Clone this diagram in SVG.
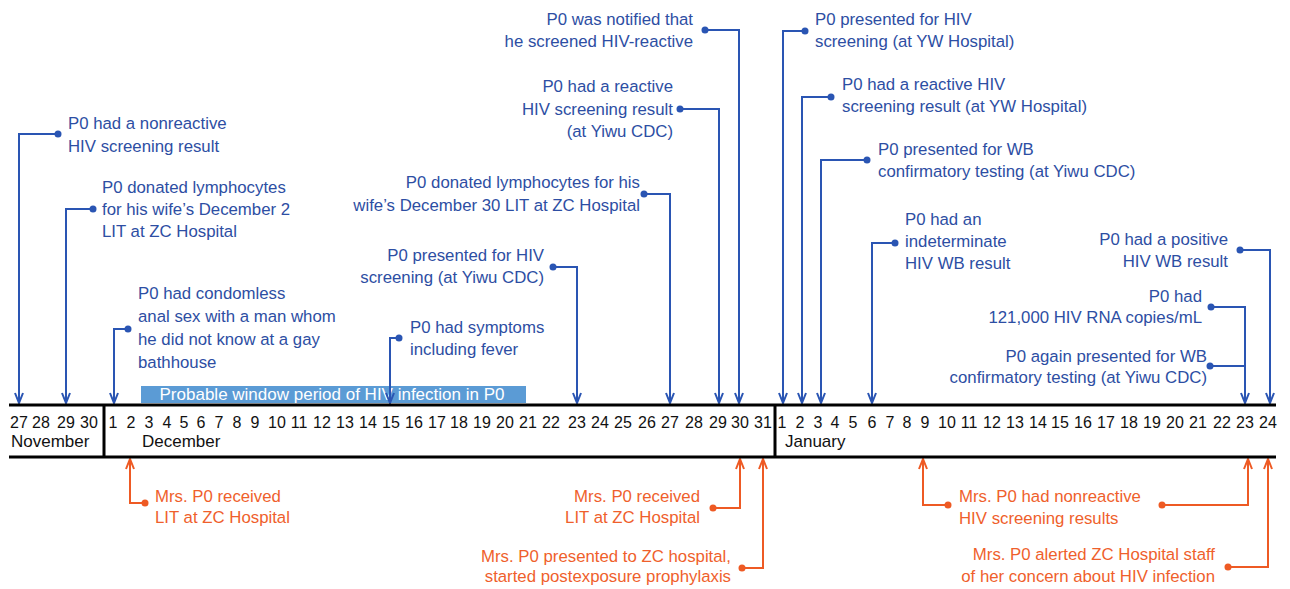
<svg xmlns="http://www.w3.org/2000/svg" width="1290" height="589" viewBox="0 0 1290 589">
<defs>
<style>
.bt{font-family:"Liberation Sans",Arial,sans-serif;font-size:16.8px;fill:#2d4ea3}
.ot{font-family:"Liberation Sans",Arial,sans-serif;font-size:16.8px;fill:#ef5f2c}
.r{text-anchor:end}
.day{font-family:"Liberation Sans",Arial,sans-serif;font-size:16px;fill:#111;text-anchor:middle}
.mon{font-family:"Liberation Sans",Arial,sans-serif;font-size:17px;fill:#111}
.bl{fill:none;stroke:#2a55b3;stroke-width:2}
.ol{fill:none;stroke:#ee5a24;stroke-width:2}
.bd{fill:#2a55b3}
.od{fill:#ee5a24}
.ax{stroke:#000;stroke-width:3;fill:none}
</style>
<marker id="ab" viewBox="0 0 12 10" refX="11" refY="5" markerWidth="12" markerHeight="10" markerUnits="userSpaceOnUse" orient="auto">
<path d="M1,1 L11,5 L1,9" fill="none" stroke="#2a55b3" stroke-width="2"/>
</marker>
<marker id="ao" viewBox="0 0 12 10" refX="11" refY="5" markerWidth="12" markerHeight="10" markerUnits="userSpaceOnUse" orient="auto">
<path d="M1,1 L11,5 L1,9" fill="none" stroke="#ee5a24" stroke-width="2"/>
</marker>
</defs>
<rect width="1290" height="589" fill="#fff"/>

<g id="window-period">
<rect x="141" y="386" width="385" height="17" fill="#5b9bd5"/>
<text x="332" y="400" text-anchor="middle" font-family="Liberation Sans,Arial,sans-serif" font-size="17" fill="#fff">Probable window period of HIV infection in P0</text>
</g>

<g id="connectors">
<path class="bl" marker-end="url(#ab)" d="M58,134 H19 V403"/>
<path class="bl" marker-end="url(#ab)" d="M93,209 H66 V403"/>
<path class="bl" marker-end="url(#ab)" d="M128,329 H114 V403"/>
<path class="bl" marker-end="url(#ab)" d="M399,338 H390 V403"/>
<path class="bl" marker-end="url(#ab)" d="M553,267 H577 V403"/>
<path class="bl" marker-end="url(#ab)" d="M644,194 H670 V403"/>
<path class="bl" marker-end="url(#ab)" d="M680,109 H719 V403"/>
<path class="bl" marker-end="url(#ab)" d="M705,30 H739 V403"/>
<path class="bl" marker-end="url(#ab)" d="M805,31 H783 V403"/>
<path class="bl" marker-end="url(#ab)" d="M831,97 H802 V403"/>
<path class="bl" marker-end="url(#ab)" d="M867,160 H821 V403"/>
<path class="bl" marker-end="url(#ab)" d="M895,243 H872 V403"/>
<path class="bl" marker-end="url(#ab)" d="M1240,250 H1270 V403"/>
<path class="bl" marker-end="url(#ab)" d="M1211,307 H1245 V403"/>
<path class="bl" d="M1210,366 H1245"/>
<path class="ol" marker-end="url(#ao)" d="M145,503 H130 V459"/>
<path class="ol" marker-end="url(#ao)" d="M713,508 H740 V459"/>
<path class="ol" marker-end="url(#ao)" d="M742,568 H763 V459"/>
<path class="ol" marker-end="url(#ao)" d="M948,505 H923 V459"/>
<path class="ol" marker-end="url(#ao)" d="M1162,505 H1248 V459"/>
<path class="ol" marker-end="url(#ao)" d="M1228,567 H1268 V459"/>
<circle class="bd" cx="58" cy="134" r="3.5"/>
<circle class="bd" cx="93" cy="209" r="3.5"/>
<circle class="bd" cx="128" cy="329" r="3.5"/>
<circle class="bd" cx="399" cy="338" r="3.5"/>
<circle class="bd" cx="553" cy="267" r="3.5"/>
<circle class="bd" cx="644" cy="194" r="3.5"/>
<circle class="bd" cx="680" cy="109" r="3.5"/>
<circle class="bd" cx="705" cy="30" r="3.5"/>
<circle class="bd" cx="805" cy="31" r="3.5"/>
<circle class="bd" cx="831" cy="97" r="3.5"/>
<circle class="bd" cx="867" cy="160" r="3.5"/>
<circle class="bd" cx="895" cy="243" r="3.5"/>
<circle class="bd" cx="1240" cy="250" r="3.5"/>
<circle class="bd" cx="1211" cy="307" r="3.5"/>
<circle class="bd" cx="1210" cy="366" r="3.5"/>
<circle class="od" cx="145" cy="503" r="3.5"/>
<circle class="od" cx="713" cy="508" r="3.5"/>
<circle class="od" cx="742" cy="568" r="3.5"/>
<circle class="od" cx="948" cy="505" r="3.5"/>
<circle class="od" cx="1162" cy="505" r="3.5"/>
<circle class="od" cx="1228" cy="567" r="3.5"/>
</g>

<g id="timeline">
<path class="ax" d="M9,405 H1276 M9,457 H1276 M104,405 V457 M775,405 V457"/>
<text class="day" y="428"><tspan x="19">27</tspan><tspan x="41">28</tspan><tspan x="66">29</tspan><tspan x="89">30</tspan><tspan x="113">1</tspan><tspan x="131">2</tspan><tspan x="149">3</tspan><tspan x="167">4</tspan><tspan x="184">5</tspan><tspan x="201">6</tspan><tspan x="219">7</tspan><tspan x="237">8</tspan><tspan x="255">9</tspan><tspan x="277">10</tspan><tspan x="299">11</tspan><tspan x="322">12</tspan><tspan x="345">13</tspan><tspan x="368">14</tspan><tspan x="391">15</tspan><tspan x="414">16</tspan><tspan x="437">17</tspan><tspan x="459">18</tspan><tspan x="482">19</tspan><tspan x="505">20</tspan><tspan x="528">21</tspan><tspan x="551">22</tspan><tspan x="577">23</tspan><tspan x="600">24</tspan><tspan x="623">25</tspan><tspan x="647">26</tspan><tspan x="670">27</tspan><tspan x="694">28</tspan><tspan x="718">29</tspan><tspan x="740">30</tspan><tspan x="763">31</tspan><tspan x="782">1</tspan><tspan x="800">2</tspan><tspan x="818">3</tspan><tspan x="835">4</tspan><tspan x="853">5</tspan><tspan x="872">6</tspan><tspan x="890">7</tspan><tspan x="907">8</tspan><tspan x="925">9</tspan><tspan x="947">10</tspan><tspan x="969">11</tspan><tspan x="992">12</tspan><tspan x="1015">13</tspan><tspan x="1038">14</tspan><tspan x="1060">15</tspan><tspan x="1083">16</tspan><tspan x="1106">17</tspan><tspan x="1129">18</tspan><tspan x="1152">19</tspan><tspan x="1175">20</tspan><tspan x="1198">21</tspan><tspan x="1222">22</tspan><tspan x="1245">23</tspan><tspan x="1268">24</tspan></text>
<text class="mon" x="11" y="447">November</text>
<text class="mon" x="142" y="447">December</text>
<text class="mon" x="785" y="447">January</text>
</g>

<g id="e-nov27"><text class="bt" x="68" y="129">P0 had a nonreactive</text><text class="bt" x="68" y="152">HIV screening result</text></g>
<g id="e-nov29"><text class="bt" x="102" y="193">P0 donated lymphocytes</text><text class="bt" x="102" y="215">for his wife’s December 2</text><text class="bt" x="102" y="237">LIT at ZC Hospital</text></g>
<g id="e-dec1"><text class="bt" x="138" y="299">P0 had condomless</text><text class="bt" x="138" y="322">anal sex with a man whom</text><text class="bt" x="138" y="345">he did not know at a gay</text><text class="bt" x="138" y="368">bathhouse</text></g>
<g id="e-dec15"><text class="bt" x="410" y="333">P0 had symptoms</text><text class="bt" x="410" y="355">including fever</text></g>
<g id="e-dec23"><text class="bt r" x="544" y="261">P0 presented for HIV</text><text class="bt r" x="544" y="283">screening (at Yiwu CDC)</text></g>
<g id="e-dec27"><text class="bt r" x="640" y="188">P0 donated lymphocytes for his</text><text class="bt r" x="640" y="211">wife’s December 30 LIT at ZC Hospital</text></g>
<g id="e-dec29"><text class="bt r" x="673" y="92">P0 had a reactive</text><text class="bt r" x="673" y="115">HIV screening result</text><text class="bt r" x="673" y="137">(at Yiwu CDC)</text></g>
<g id="e-dec30"><text class="bt r" x="693" y="25">P0 was notified that</text><text class="bt r" x="693" y="47">he screened HIV-reactive</text></g>
<g id="e-jan1"><text class="bt" x="815" y="25">P0 presented for HIV</text><text class="bt" x="815" y="47">screening (at YW Hospital)</text></g>
<g id="e-jan2"><text class="bt" x="842" y="90">P0 had a reactive HIV</text><text class="bt" x="842" y="112">screening result (at YW Hospital)</text></g>
<g id="e-jan3"><text class="bt" x="878" y="155">P0 presented for WB</text><text class="bt" x="878" y="177">confirmatory testing (at Yiwu CDC)</text></g>
<g id="e-jan6"><text class="bt" x="905" y="225">P0 had an</text><text class="bt" x="905" y="247">indeterminate</text><text class="bt" x="905" y="269">HIV WB result</text></g>
<g id="e-jan24"><text class="bt r" x="1228" y="245">P0 had a positive</text><text class="bt r" x="1228" y="267">HIV WB result</text></g>
<g id="e-jan23a"><text class="bt r" x="1202" y="302">P0 had</text><text class="bt r" x="1202" y="323">121,000 HIV RNA copies/mL</text></g>
<g id="e-jan23b"><text class="bt r" x="1207" y="362">P0 again presented for WB</text><text class="bt r" x="1207" y="383">confirmatory testing (at Yiwu CDC)</text></g>

<g id="m-dec2"><text class="ot" x="155" y="502">Mrs. P0 received</text><text class="ot" x="155" y="523">LIT at ZC Hospital</text></g>
<g id="m-dec30"><text class="ot r" x="700" y="502">Mrs. P0 received</text><text class="ot r" x="700" y="523">LIT at ZC Hospital</text></g>
<g id="m-dec31"><text class="ot r" x="731" y="562">Mrs. P0 presented to ZC hospital,</text><text class="ot r" x="731" y="582">started postexposure prophylaxis</text></g>
<g id="m-jan9"><text class="ot" x="959" y="502">Mrs. P0 had nonreactive</text><text class="ot" x="959" y="524">HIV screening results</text></g>
<g id="m-jan24"><text class="ot r" x="1215" y="560">Mrs. P0 alerted ZC Hospital staff</text><text class="ot r" x="1215" y="582">of her concern about HIV infection</text></g>
</svg>
